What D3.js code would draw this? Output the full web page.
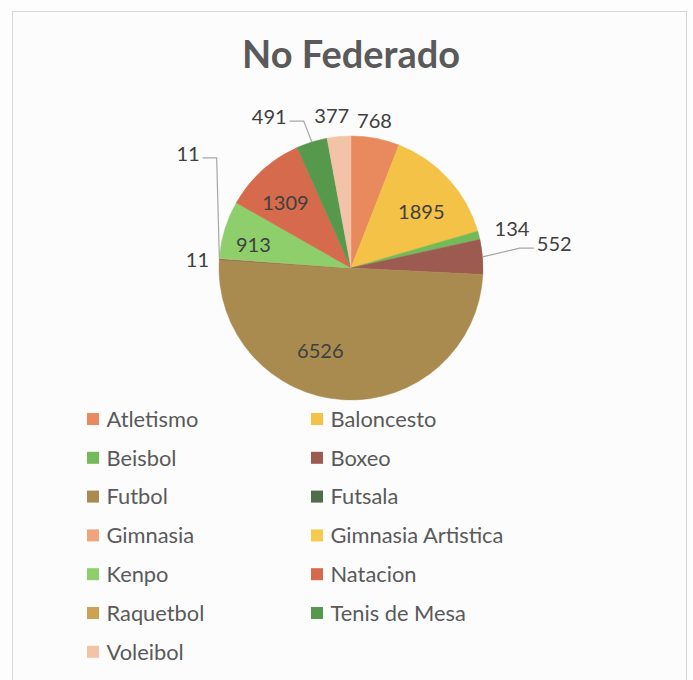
<!DOCTYPE html>
<html><head><meta charset="utf-8">
<script src="https://cdn.jsdelivr.net/npm/d3@7"></script>
<style>body{margin:0;background:#fdfdfd}</style></head>
<body><svg id="c" width="693" height="680"></svg>
<script>
// ---- data ----
const chartTitle = "No Federado";
const categories = ["Atletismo","Baloncesto","Beisbol","Boxeo","Futbol","Futsala","Gimnasia","Gimnasia Artistica","Kenpo","Natacion","Raquetbol","Tenis de Mesa","Voleibol"];
const values = [768,1895,134,552,6526,11,11,0,913,1309,0,491,377];
const colors = ["#E98A5E","#F3C246","#74B95A","#9C5A50","#A98B50","#4E6E4A","#EEA47C","#F5CA4E","#8ECF6C","#D66A4C","#CDA254","#56984C","#F2C3A6"];

// ---- layout (label placement relative to each slice: radius factor, angle nudge in degrees) ----
const W = 693, H = 680, cx = 351, cy = 268, R = 132;
const labelLayout = {
  "Atletismo":     {k:1.13, da:-1.6},
  "Baloncesto":    {k:0.68, da:4},
  "Beisbol":       {k:1.255, da:0.7},
  "Boxeo":         {k:1.55, da:-1.9, leader:true},
  "Futbol":        {k:0.67, da:17},
  "Futsala":       {k:1.165, da:-0.9},
  "Gimnasia":      {k:1.507, da:30.8, leader:true},
  "Kenpo":         {k:0.76, da:-3.6},
  "Natacion":      {k:0.70, da:-3},
  "Tenis de Mesa": {k:1.30, da:-11.2, leader:true},
  "Voleibol":      {k:1.16, da:-2}
};
const FONT = "Lato, 'Open Sans', sans-serif";

const svg = d3.select("#c");
svg.append("rect").attr("x",12.5).attr("y",11.5).attr("width",674).attr("height",700)
  .attr("fill","#fcfcfc").attr("stroke","#d6d6d6").attr("stroke-width",1);

// font fitting helper (match text width)
function fitSize(text, target, weight){
  const t = svg.append("text").attr("font-family",FONT).attr("font-weight",weight||400)
    .attr("font-size",100).text(text);
  const w = t.node().getComputedTextLength(); t.remove();
  return 100*target/w;
}
const titleSize = fitSize(chartTitle, 218, 700);
const labelSize = fitSize("1895", 46.5, 400);
const legendSize = fitSize("Gimnasia Artistica", 173, 400);

// title
svg.append("text").attr("x",cx).attr("y",68).attr("text-anchor","middle")
  .attr("font-family",FONT).attr("font-weight",700).attr("font-size",titleSize)
  .attr("fill","#5a5a5a").text(chartTitle);

// pie
const data = categories.map((c,i)=>({cat:c, value:values[i], color:colors[i]}));
const pie = d3.pie().sort(null).value(d=>d.value);
const arcs = pie(data);
const arc = d3.arc().innerRadius(0).outerRadius(R);
const g = svg.append("g").attr("transform",`translate(${cx},${cy})`);
g.selectAll("path").data(arcs.filter(a=>a.data.value>0)).join("path")
  .attr("d",arc).attr("fill",d=>d.data.color).attr("stroke",d=>d.data.color).attr("stroke-width",0.5);

// labels
const rad = Math.PI/180;
arcs.forEach(a=>{
  const L = labelLayout[a.data.cat];
  if(!L || a.data.value<=0) return;
  const mid = (a.startAngle+a.endAngle)/2;
  const ang = mid + L.da*rad;
  const lx = Math.sin(ang)*R*L.k, ly = -Math.cos(ang)*R*L.k;
  const t = g.append("text").attr("x",lx).attr("y",ly).attr("dy","0.36em")
    .attr("text-anchor","middle").attr("font-family",FONT).attr("font-size",labelSize)
    .attr("fill","#404040").text(d3.format("d")(a.data.value));
  if(L.leader){
    const bb = t.node().getBBox();
    const px = Math.sin(mid)*R, py = -Math.cos(mid)*R;
    let p1x, ex; const p1y = ly + 4;
    if(lx < px){ p1x = bb.x + bb.width + 3; ex = p1x + 14; }
    else { p1x = bb.x - 3; ex = p1x - 14; }
    g.append("polyline").attr("points",`${p1x},${p1y} ${ex},${p1y} ${px},${py}`)
      .attr("fill","none").attr("stroke","#a6a6a6").attr("stroke-width",1.2);
  }
});

// legend
const legX = [87, 311], legY0 = 419, legDY = 38.8, sq = 12;
const lg = svg.append("g");
data.forEach((d,i)=>{
  const col = i%2, row = Math.floor(i/2);
  const x = legX[col], y = legY0 + row*legDY;
  lg.append("rect").attr("x",x).attr("y",y-sq/2).attr("width",sq).attr("height",sq).attr("fill",d.color);
  lg.append("text").attr("x",x+19.5).attr("y",y).attr("dy","0.36em")
    .attr("font-family",FONT).attr("font-size",legendSize).attr("fill","#5a5a5a").text(d.cat);
});
</script>
</body></html>
